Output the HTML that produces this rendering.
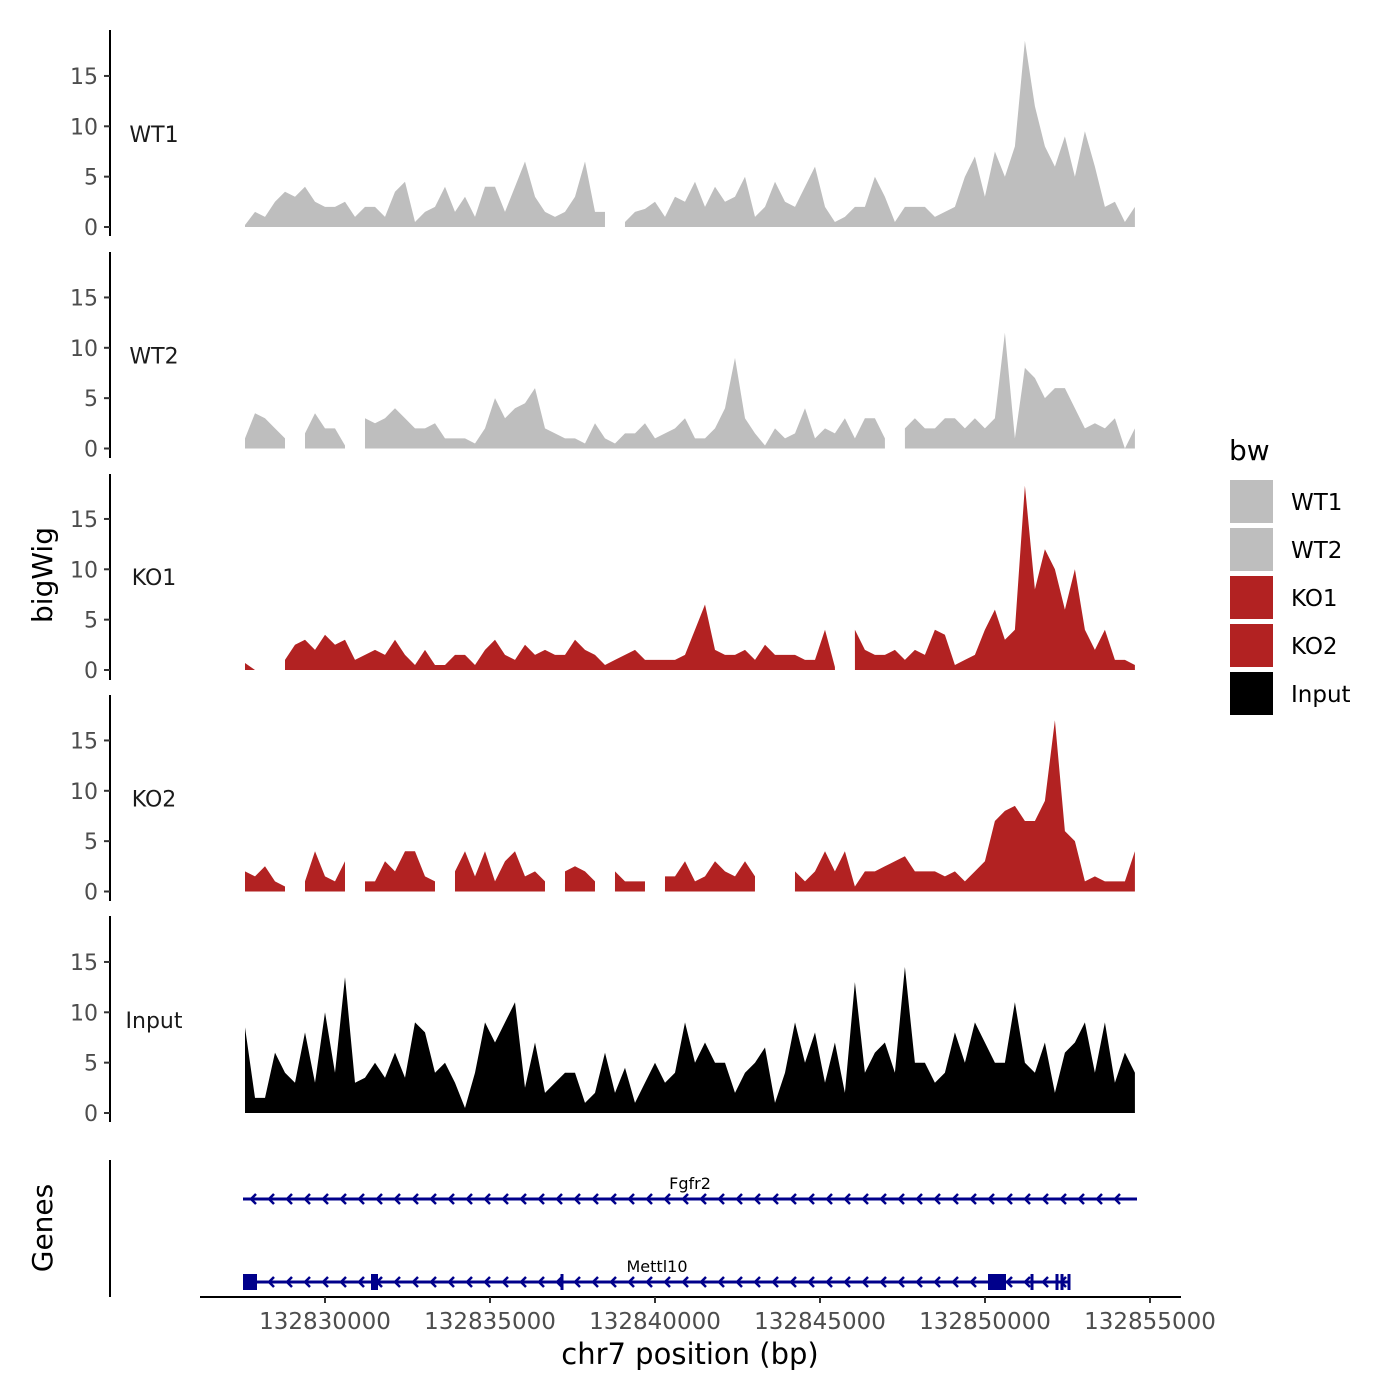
<!DOCTYPE html>
<html><head><meta charset="utf-8"><style>
html,body{margin:0;padding:0;background:#fff;}
svg{display:block;font-family:"DejaVu Sans","Liberation Sans",sans-serif;}
</style></head><body>
<svg id="chart" width="1400" height="1400" viewBox="0 0 1400 1400" xmlns="http://www.w3.org/2000/svg">
<text x="52" y="575" font-size="28" text-anchor="middle" transform="rotate(-90 52 575)">bigWig</text>
<text x="52" y="1228" font-size="28" text-anchor="middle" transform="rotate(-90 52 1228)">Genes</text>
<text x="690" y="1364" font-size="29" text-anchor="middle">chr7 position (bp)</text>
<g id="tracks"></g>
<g id="genes"></g>
<g id="xaxis"></g>
<g id="legend"></g>
</svg>
<script>
const binStart = 132827576;
const binSize = 303;
const trackNames = ["WT1","WT2","KO1","KO2","Input"];
const trackColors = ["#bebebe","#bebebe","#b22222","#b22222","#000000"];
const yTicks = [0,5,10,15];
const xTicks = [132830000,132835000,132840000,132845000,132850000,132855000];
const wt1 = [0.2,1.5,1,2.5,3.5,3,4,2.5,2,2,2.5,1,2,2,1,3.5,4.5,0.5,1.5,2,4,1.5,3,1,4,4,1.5,4,6.5,3,1.5,1,1.5,3,6.5,1.5,1.5,null,0.5,1.5,1.8,2.5,1,3,2.5,4.5,2,4,2.5,3,5,1,2,4.5,2.5,2,4,6,2,0.5,1,2,2,5,3,0.5,2,2,2,1,1.5,2,5,7,3,7.5,5,8,18.5,12,8,6,9,5,9.5,6,2,2.5,0.5,2];
const wt2 = [1,3.5,3,2,1,null,1.5,3.5,2,2,0.3,null,3,2.5,3,4,3,2,2,2.5,1,1,1,0.5,2,5,3,4,4.5,6,2,1.5,1,1,0.5,2.5,1,0.5,1.5,1.5,2.5,1,1.5,2,3,1,1,2,4,9,3,1.5,0.3,2,1,1.5,4,1,2,1.5,3,1,3,3,1,null,2,3,2,2,3,3,2,3,2,3,11.5,1,8,7,5,6,6,4,2,2.5,2,3,0,2];
const ko1 = [0.7,0,null,null,1,2.5,3,2,3.5,2.5,3,1,1.5,2,1.5,3,1.5,0.5,2,0.5,0.5,1.5,1.5,0.5,2,3,1.5,1,2.5,1.5,2,1.5,1.5,3,2,1.5,0.5,1,1.5,2,1,1,1,1,1.5,4,6.5,2,1.5,1.5,2,1,2.5,1.5,1.5,1.5,1,1,4,0.3,null,4,2,1.5,1.5,2,1,2,1.5,4,3.5,0.5,1,1.5,4,6,3,4,18.3,8,12,10,6,10,4,2,4,1,1,0.5];
const ko2 = [2,1.5,2.5,1,0.5,null,1,4,1.5,1,3,null,1,1,3,2,4,4,1.5,1,null,2,4,1.5,4,1,3,4,1.5,2,1,null,2,2.5,2,1,null,2,1,1,1,null,1.5,1.5,3,1,1.5,3,2,1.5,3,1.5,null,null,null,2,1,2,4,2,4,0.5,2,2,2.5,3,3.5,2,2,2,1.5,2,1,2,3,7,8,8.5,7,7,9,17,6,5,1,1.5,1,1,1,4];
const inputTrack = [8.5,1.5,1.5,6,4,3,8,3,10,4,13.5,3,3.5,5,3.5,6,3.5,9,8,4,5,3,0.5,4,9,7,9,11,2.5,7,2,3,4,4,1,2,6,2,4.5,1,3,5,3,4,9,5,7,5,5,2,4,5,6.5,1,4,9,5,8,3,7,2,13,4,6,7,4,14.5,5,5,3,4,8,5,9,7,5,5,11,5,4,7,2,6,7,9,4,9,3,6,4];
const trackValues = [wt1,wt2,ko1,ko2,inputTrack];

const NS = "http://www.w3.org/2000/svg";
function mk(tag, attrs, parent){const e=document.createElementNS(NS,tag);for(const k in attrs)e.setAttribute(k,attrs[k]);parent.appendChild(e);return e;}
function xScale(bp){return 325 + (bp - 132830000) * 0.033;}
const panelTops = [30,252,474,695,916];
function yScale(panel, v){return (227 + panel*221.5) - v*10.07;}

const tracksG = document.getElementById('tracks');
trackNames.forEach((name, p) => {
  const g = mk('g', {}, tracksG);
  
  
  const base = yScale(p, 0);
  const ax = mk('line', {x1:110,x2:110,y1:panelTops[p],y2:panelTops[p]+206,stroke:'#000','stroke-width':2}, g);
  
  
  yTicks.forEach(t => {
    const y = yScale(p, t);
    const tk = mk('line', {x1:104,x2:110,y1:y,y2:y,stroke:'#333','stroke-width':2}, g);
    
    
    const tl = mk('text', {x:98,y:y+8,'font-size':22,fill:'#4d4d4d','text-anchor':'end'}, g);
    tl.textContent = t;
    
    
  });
  const lb = mk('text', {x:154,y:base-93+8,'font-size':22,fill:'#1a1a1a','text-anchor':'middle'}, g);
  lb.textContent = name;
  
  
  const vals = trackValues[p];
  let seg = [];
  const segs = [];
  vals.forEach((v, i) => {
    if (v === null) { if (seg.length) segs.push(seg); seg = []; }
    else seg.push([xScale(binStart + i*binSize), yScale(p, v)]);
  });
  if (seg.length) segs.push(seg);
  segs.forEach(s => {
    let d = 'M' + s[0][0] + ',' + base;
    s.forEach(pt => d += 'L' + pt[0].toFixed(1) + ',' + pt[1].toFixed(1));
    d += 'L' + s[s.length-1][0] + ',' + base + 'Z';
    const a = mk('path', {d:d, fill:trackColors[p]}, g);
    
    
  });
});

const geneG = document.getElementById('genes');
const gax = mk('line', {x1:110,x2:110,y1:1160,y2:1297,stroke:'#000','stroke-width':2}, geneG);


function gene(name, y, x1, x2, labelX, exons, ticks){
  const g = mk('g', {}, geneG);
  
  
  mk('line', {x1:x1,x2:x2,y1:y,y2:y,stroke:'#00008b','stroke-width':3}, g);
  for (let x = x1 + 8; x < x2 - 6; x += 18) {
    mk('polyline', {points:(x+5)+','+(y-5)+' '+x+','+y+' '+(x+5)+','+(y+5),fill:'none',stroke:'#00008b','stroke-width':2.5}, g);
  }
  exons.forEach(e => mk('rect', {x:e[0],y:y-8,width:e[1]-e[0],height:16,fill:'#00008b'}, g));
  ticks.forEach(t => mk('line', {x1:t,x2:t,y1:y-8,y2:y+8,stroke:'#00008b','stroke-width':3}, g));
  const t = mk('text', {x:labelX,y:y-10,'font-size':16,'text-anchor':'middle',fill:'#000'}, g);
  t.textContent = name;
  
  
}
gene('Fgfr2', 1199, 243, 1137, 690, [], []);
gene('Mettl10', 1282, 243, 1070, 657, [[243,257],[371,378],[988,1006]], [562,1032,1057,1062,1069]);

const xg = document.getElementById('xaxis');
const xl = mk('line', {x1:200,x2:1181,y1:1297,y2:1297,stroke:'#000','stroke-width':2}, xg);


xTicks.forEach(t => {
  const x = xScale(t);
  const tk = mk('line', {x1:x,x2:x,y1:1297,y2:1303,stroke:'#333','stroke-width':2}, xg);
  
  
  const tl = mk('text', {x:x,y:1329,'font-size':23,fill:'#4d4d4d','text-anchor':'middle'}, xg);
  tl.textContent = t;
  
  
});

const lg = document.getElementById('legend');
const lt = mk('text', {x:1229,y:460,'font-size':28,fill:'#000'}, lg);
lt.textContent = 'bw';


trackNames.forEach((n, i) => {
  const y = 480 + i*48;
  const g = mk('g', {}, lg);
  
  
  mk('rect', {x:1230,y:y,width:43,height:43,fill:trackColors[i]}, g);
  const t = mk('text', {x:1291,y:y+30,'font-size':23,fill:'#000'}, g);
  t.textContent = n;
});
</script>
</body></html>
